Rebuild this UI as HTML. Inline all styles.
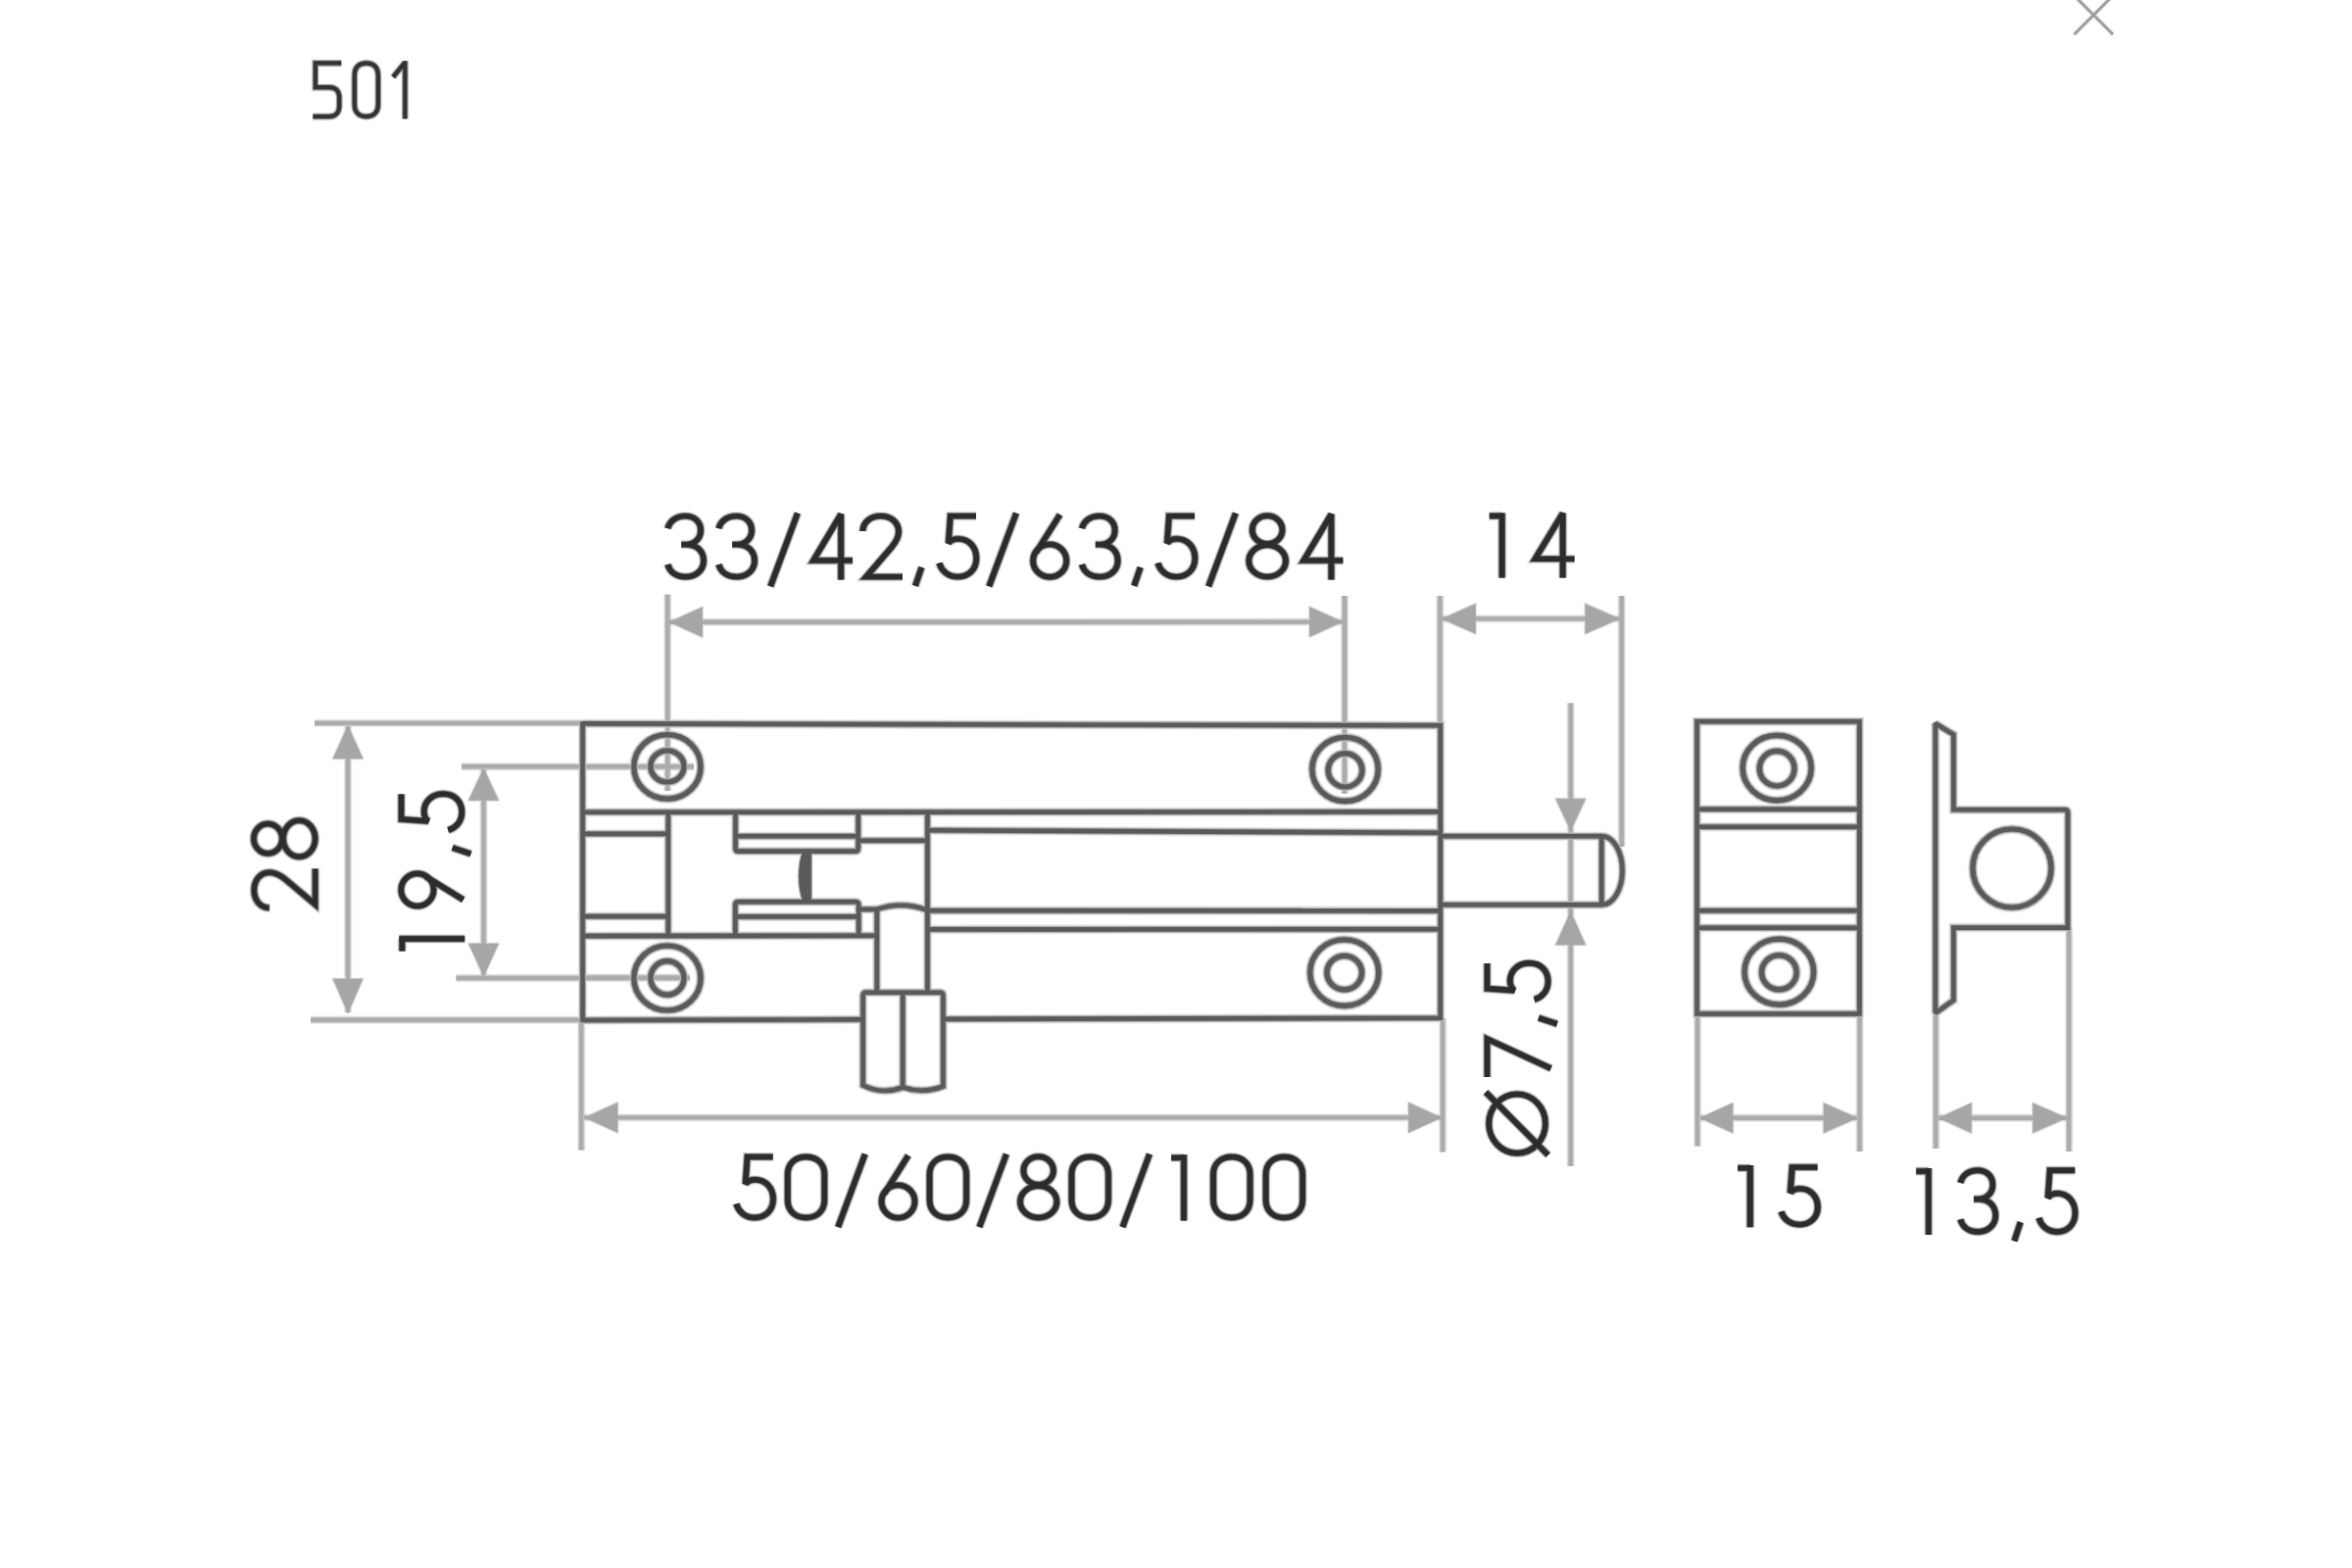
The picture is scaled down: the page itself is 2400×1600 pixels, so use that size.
<!DOCTYPE html>
<html><head><meta charset="utf-8"><title>501</title>
<style>
html,body{margin:0;padding:0;background:#ffffff;}
body{width:2400px;height:1600px;overflow:hidden;font-family:"Liberation Sans",sans-serif;}
svg{display:block;}
</style></head><body>
<svg xmlns="http://www.w3.org/2000/svg" width="2400" height="1600" viewBox="0 0 2400 1600">
<defs><filter id="bl" x="0" y="0" width="2400" height="1600" filterUnits="userSpaceOnUse"><feGaussianBlur stdDeviation="0"/></filter></defs>
<rect width="2400" height="1600" fill="#ffffff"/>
<g filter="url(#bl)">
<g stroke="#dddddd" stroke-width="4.4" stroke-linecap="butt"><line x1="2116.5" y1="35.1" x2="2155.5" y2="-3.9"/><line x1="2117.1" y1="-3.9" x2="2156.1" y2="35.1"/></g>
<g stroke="#9a9a9a" stroke-width="2.4" stroke-linecap="butt"><line x1="2116.5" y1="35.1" x2="2155.5" y2="-3.9"/><line x1="2117.1" y1="-3.9" x2="2156.1" y2="35.1"/></g>
<g fill="none" stroke="#eeeeee" stroke-width="8.4" stroke-linejoin="miter"><g transform="translate(319.3,62.2)"><path d="M29,2.25 H2.5 V27 H17 C23.5,27 26.9,31 26.9,37.5 V46 C26.9,52.5 23,56.75 16.5,56.75 H0"/></g><g transform="translate(359.5,62.2)"><path d="M2.25,14.5 C2.25,6.5 7,2.25 14.3,2.25 C21.6,2.25 26.35,6.5 26.35,14.5 V44.5 C26.35,52.5 21.6,56.75 14.3,56.75 C7,56.75 2.25,52.5 2.25,44.5 Z"/></g><g transform="translate(400.6,62.2)"><path d="M12.75,0 V59 M0.5,16.5 L12.75,1.5"/></g></g>
<g fill="none" stroke="#999999" stroke-width="6.4" stroke-linejoin="miter"><g transform="translate(319.3,62.2)"><path d="M29,2.25 H2.5 V27 H17 C23.5,27 26.9,31 26.9,37.5 V46 C26.9,52.5 23,56.75 16.5,56.75 H0"/></g><g transform="translate(359.5,62.2)"><path d="M2.25,14.5 C2.25,6.5 7,2.25 14.3,2.25 C21.6,2.25 26.35,6.5 26.35,14.5 V44.5 C26.35,52.5 21.6,56.75 14.3,56.75 C7,56.75 2.25,52.5 2.25,44.5 Z"/></g><g transform="translate(400.6,62.2)"><path d="M12.75,0 V59 M0.5,16.5 L12.75,1.5"/></g></g>
<g fill="none" stroke="#333333" stroke-width="4.2" stroke-linejoin="miter"><g transform="translate(319.3,62.2)"><path d="M29,2.25 H2.5 V27 H17 C23.5,27 26.9,31 26.9,37.5 V46 C26.9,52.5 23,56.75 16.5,56.75 H0"/></g><g transform="translate(359.5,62.2)"><path d="M2.25,14.5 C2.25,6.5 7,2.25 14.3,2.25 C21.6,2.25 26.35,6.5 26.35,14.5 V44.5 C26.35,52.5 21.6,56.75 14.3,56.75 C7,56.75 2.25,52.5 2.25,44.5 Z"/></g><g transform="translate(400.6,62.2)"><path d="M12.75,0 V59 M0.5,16.5 L12.75,1.5"/></g></g>
<g fill="none" stroke="#ececec" stroke-linejoin="miter"><line x1="681.2" y1="606.8" x2="681.2" y2="807" stroke-width="8.40"/><line x1="1372" y1="608" x2="1372" y2="810" stroke-width="8.40"/><line x1="683" y1="634.8" x2="1370" y2="634.6" stroke-width="8.40"/><line x1="1469.4" y1="608" x2="1469.4" y2="740" stroke-width="8.40"/><line x1="1654.7" y1="608" x2="1654.7" y2="864" stroke-width="8.40"/><line x1="1471" y1="631.4" x2="1653" y2="631.4" stroke-width="8.40"/><line x1="321" y1="737.9" x2="594" y2="737.9" stroke-width="8.40"/><line x1="317" y1="1040.7" x2="594" y2="1040.7" stroke-width="8.40"/><line x1="355" y1="741" x2="355" y2="1033" stroke-width="8.40"/><line x1="471" y1="782.3" x2="708" y2="782.3" stroke-width="8.40"/><line x1="465.5" y1="998" x2="704" y2="998" stroke-width="8.40"/><line x1="493.5" y1="785" x2="493.5" y2="995.5" stroke-width="8.40"/><line x1="593.2" y1="1041" x2="593.2" y2="1173.5" stroke-width="8.40"/><line x1="1472.2" y1="1039" x2="1472.2" y2="1175.5" stroke-width="8.40"/><line x1="596" y1="1140.4" x2="1470" y2="1140.4" stroke-width="8.40"/><line x1="1602.7" y1="717.5" x2="1602.7" y2="1190" stroke-width="8.40"/><line x1="1732.1" y1="1034" x2="1732.1" y2="1169.5" stroke-width="8.40"/><line x1="1897.6" y1="1034" x2="1897.6" y2="1175" stroke-width="8.40"/><line x1="1735" y1="1140.8" x2="1895" y2="1140.8" stroke-width="8.40"/><line x1="1975.3" y1="1032" x2="1975.3" y2="1172" stroke-width="8.40"/><line x1="2111.2" y1="946" x2="2111.2" y2="1175" stroke-width="8.40"/><line x1="1978" y1="1140.8" x2="2109" y2="1140.8" stroke-width="8.40"/><line x1="594" y1="782.1" x2="708" y2="782.1" stroke-width="8.40"/><line x1="594" y1="997.8" x2="703.5" y2="997.8" stroke-width="8.40"/></g>
<g fill="none" stroke="#d0d0d0" stroke-linejoin="miter"><line x1="681.2" y1="606.8" x2="681.2" y2="807" stroke-width="6.40"/><line x1="1372" y1="608" x2="1372" y2="810" stroke-width="6.40"/><line x1="683" y1="634.8" x2="1370" y2="634.6" stroke-width="6.40"/><line x1="1469.4" y1="608" x2="1469.4" y2="740" stroke-width="6.40"/><line x1="1654.7" y1="608" x2="1654.7" y2="864" stroke-width="6.40"/><line x1="1471" y1="631.4" x2="1653" y2="631.4" stroke-width="6.40"/><line x1="321" y1="737.9" x2="594" y2="737.9" stroke-width="6.40"/><line x1="317" y1="1040.7" x2="594" y2="1040.7" stroke-width="6.40"/><line x1="355" y1="741" x2="355" y2="1033" stroke-width="6.40"/><line x1="471" y1="782.3" x2="708" y2="782.3" stroke-width="6.40"/><line x1="465.5" y1="998" x2="704" y2="998" stroke-width="6.40"/><line x1="493.5" y1="785" x2="493.5" y2="995.5" stroke-width="6.40"/><line x1="593.2" y1="1041" x2="593.2" y2="1173.5" stroke-width="6.40"/><line x1="1472.2" y1="1039" x2="1472.2" y2="1175.5" stroke-width="6.40"/><line x1="596" y1="1140.4" x2="1470" y2="1140.4" stroke-width="6.40"/><line x1="1602.7" y1="717.5" x2="1602.7" y2="1190" stroke-width="6.40"/><line x1="1732.1" y1="1034" x2="1732.1" y2="1169.5" stroke-width="6.40"/><line x1="1897.6" y1="1034" x2="1897.6" y2="1175" stroke-width="6.40"/><line x1="1735" y1="1140.8" x2="1895" y2="1140.8" stroke-width="6.40"/><line x1="1975.3" y1="1032" x2="1975.3" y2="1172" stroke-width="6.40"/><line x1="2111.2" y1="946" x2="2111.2" y2="1175" stroke-width="6.40"/><line x1="1978" y1="1140.8" x2="2109" y2="1140.8" stroke-width="6.40"/><line x1="594" y1="782.1" x2="708" y2="782.1" stroke-width="6.40"/><line x1="594" y1="997.8" x2="703.5" y2="997.8" stroke-width="6.40"/></g>
<g fill="#e2e2e2" stroke="#e2e2e2" stroke-width="3.0" stroke-linejoin="round"><polygon points="683.50,634.80 716.50,619.80 716.50,649.80"/><polygon points="1369.50,634.60 1336.50,619.60 1336.50,649.60"/><polygon points="1471.50,631.40 1505.50,616.40 1505.50,646.40"/><polygon points="1652.30,631.40 1617.80,616.40 1617.80,646.40"/><polygon points="355.00,740.50 340.00,774.00 370.00,774.00"/><polygon points="355.00,1033.50 340.00,999.00 370.00,999.00"/><polygon points="493.50,784.50 478.50,816.50 508.50,816.50"/><polygon points="493.50,996.00 478.50,963.00 508.50,963.00"/><polygon points="597.00,1140.40 630.00,1125.40 630.00,1155.40"/><polygon points="1470.50,1140.40 1437.50,1125.40 1437.50,1155.40"/><polygon points="1602.70,847.50 1587.70,815.20 1617.70,815.20"/><polygon points="1602.70,930.50 1587.70,964.00 1617.70,964.00"/><polygon points="1735.00,1140.80 1768.00,1125.80 1768.00,1155.80"/><polygon points="1895.00,1140.80 1861.00,1125.80 1861.00,1155.80"/><polygon points="1978.50,1140.80 2011.50,1125.80 2011.50,1155.80"/><polygon points="2108.50,1140.80 2074.50,1125.80 2074.50,1155.80"/></g>
<g fill="none" stroke="#ececec" stroke-linejoin="miter"><path d="M594.5,738.4 L1469.8,740.3 L1469.8,1038.8 L962.4,1039.9 M880.6,1040.3 L594.5,1041" stroke-width="9.60"/><line x1="594.5" y1="736.3" x2="594.5" y2="1043" stroke-width="9.60"/><line x1="594.5" y1="828.8" x2="1469.8" y2="828.4" stroke-width="9.60"/><line x1="594.5" y1="850.9" x2="681.8" y2="850.9" stroke-width="9.60"/><line x1="594.5" y1="935.1" x2="681.8" y2="935.1" stroke-width="9.60"/><line x1="681.8" y1="828.8" x2="681.8" y2="955.1" stroke-width="9.60"/><line x1="594.5" y1="955.1" x2="894.8" y2="954.8" stroke-width="9.60"/><path d="M750.5,828.8 V865.4 Q750.5,868.6 753.7,868.6 H872.5 Q875.7,868.6 875.7,865.4 V828.8" stroke-width="9.60"/><line x1="750.5" y1="853.3" x2="875.7" y2="853.3" stroke-width="9.60"/><path d="M750.3,955 V923.4 Q750.3,920.2 753.5,920.2 H872.6 Q876.2,920.2 876.2,923.8 V955" stroke-width="9.60"/><line x1="750.3" y1="935.4" x2="876.2" y2="935.4" stroke-width="9.60"/><line x1="875.7" y1="857.8" x2="946.4" y2="857.8" stroke-width="9.60"/><line x1="876.2" y1="927.9" x2="894.8" y2="927.9" stroke-width="9.60"/><path d="M894.8,927.9 Q920.6,919.2 946.4,928.8" stroke-width="9.60"/><line x1="894.8" y1="927.9" x2="894.8" y2="1012.7" stroke-width="9.60"/><line x1="946.4" y1="828.8" x2="946.4" y2="1012.7" stroke-width="9.60"/><line x1="946.4" y1="847.2" x2="1469.8" y2="849.8" stroke-width="9.60"/><line x1="946.4" y1="929.3" x2="1469.8" y2="929.4" stroke-width="9.60"/><line x1="946.4" y1="948.4" x2="1469.8" y2="948.2" stroke-width="9.60"/><path d="M880.6,1107.5 V1016 Q880.6,1012.7 883.9,1012.7 H959.1 Q962.4,1012.7 962.4,1016 V1108.5 Q942,1116.5 921.2,1109.5 Q901,1117.5 880.6,1107.5 Z" stroke-width="9.60"/><line x1="921.2" y1="1012.7" x2="921.2" y2="1110" stroke-width="9.60"/><path d="M1469.8,853.2 H1634.5 A21,35.05 0 0 1 1634.5,923.3 H1469.8" stroke-width="9.60"/><line x1="1634.3" y1="853.2" x2="1634.3" y2="923.3" stroke-width="9.60"/><ellipse cx="680.9" cy="782.4" rx="34.1" ry="32.7" stroke-width="10.20"/><ellipse cx="680.9" cy="782.0" rx="17.0" ry="16.0" stroke-width="10.20"/><ellipse cx="1372.6" cy="785.0" rx="33.7" ry="32.6" stroke-width="10.20"/><ellipse cx="1372.6" cy="785.9" rx="17.3" ry="17.1" stroke-width="10.20"/><ellipse cx="680.9" cy="998.0" rx="34.1" ry="33.0" stroke-width="10.20"/><ellipse cx="680.9" cy="997.9" rx="17.0" ry="17.2" stroke-width="10.20"/><ellipse cx="1371.8" cy="992.6" rx="35.0" ry="33.8" stroke-width="10.20"/><ellipse cx="1371.8" cy="992.6" rx="17.8" ry="17.2" stroke-width="10.20"/><path d="M1731.6,736.2 H1897.4 V1034.5 H1731.6 Z" stroke-width="9.60"/><line x1="1731.6" y1="825.8" x2="1897.4" y2="825.8" stroke-width="9.60"/><line x1="1731.6" y1="843.7" x2="1897.4" y2="843.7" stroke-width="9.60"/><line x1="1731.6" y1="929.3" x2="1897.4" y2="929.3" stroke-width="9.60"/><line x1="1731.6" y1="946.7" x2="1897.4" y2="946.7" stroke-width="9.60"/><ellipse cx="1813.2" cy="783.6" rx="35.0" ry="33.2" stroke-width="10.20"/><ellipse cx="1813.2" cy="784.2" rx="17.8" ry="17.8" stroke-width="10.20"/><ellipse cx="1815.4" cy="991.7" rx="35.3" ry="33.5" stroke-width="10.20"/><ellipse cx="1815.4" cy="992.3000000000001" rx="17.8" ry="17.5" stroke-width="10.20"/><path d="M1993.4,826.3 V749.5 L1974.9,738.3 V1033.8 L1993.4,1020.6 V946.6 H2110 V829.5 Q2110,826.3 2106.8,826.3 Z" stroke-miterlimit="1.5" stroke-width="9.60"/><ellipse cx="2053" cy="886" rx="40" ry="40" stroke-width="10.20"/></g>
<g fill="none" stroke="#cfcfcf" stroke-linejoin="miter"><path d="M594.5,738.4 L1469.8,740.3 L1469.8,1038.8 L962.4,1039.9 M880.6,1040.3 L594.5,1041" stroke-width="8.00"/><line x1="594.5" y1="736.3" x2="594.5" y2="1043" stroke-width="8.00"/><line x1="594.5" y1="828.8" x2="1469.8" y2="828.4" stroke-width="8.00"/><line x1="594.5" y1="850.9" x2="681.8" y2="850.9" stroke-width="8.00"/><line x1="594.5" y1="935.1" x2="681.8" y2="935.1" stroke-width="8.00"/><line x1="681.8" y1="828.8" x2="681.8" y2="955.1" stroke-width="8.00"/><line x1="594.5" y1="955.1" x2="894.8" y2="954.8" stroke-width="8.00"/><path d="M750.5,828.8 V865.4 Q750.5,868.6 753.7,868.6 H872.5 Q875.7,868.6 875.7,865.4 V828.8" stroke-width="8.00"/><line x1="750.5" y1="853.3" x2="875.7" y2="853.3" stroke-width="8.00"/><path d="M750.3,955 V923.4 Q750.3,920.2 753.5,920.2 H872.6 Q876.2,920.2 876.2,923.8 V955" stroke-width="8.00"/><line x1="750.3" y1="935.4" x2="876.2" y2="935.4" stroke-width="8.00"/><line x1="875.7" y1="857.8" x2="946.4" y2="857.8" stroke-width="8.00"/><line x1="876.2" y1="927.9" x2="894.8" y2="927.9" stroke-width="8.00"/><path d="M894.8,927.9 Q920.6,919.2 946.4,928.8" stroke-width="8.00"/><line x1="894.8" y1="927.9" x2="894.8" y2="1012.7" stroke-width="8.00"/><line x1="946.4" y1="828.8" x2="946.4" y2="1012.7" stroke-width="8.00"/><line x1="946.4" y1="847.2" x2="1469.8" y2="849.8" stroke-width="8.00"/><line x1="946.4" y1="929.3" x2="1469.8" y2="929.4" stroke-width="8.00"/><line x1="946.4" y1="948.4" x2="1469.8" y2="948.2" stroke-width="8.00"/><path d="M880.6,1107.5 V1016 Q880.6,1012.7 883.9,1012.7 H959.1 Q962.4,1012.7 962.4,1016 V1108.5 Q942,1116.5 921.2,1109.5 Q901,1117.5 880.6,1107.5 Z" stroke-width="8.00"/><line x1="921.2" y1="1012.7" x2="921.2" y2="1110" stroke-width="8.00"/><path d="M1469.8,853.2 H1634.5 A21,35.05 0 0 1 1634.5,923.3 H1469.8" stroke-width="8.00"/><line x1="1634.3" y1="853.2" x2="1634.3" y2="923.3" stroke-width="8.00"/><ellipse cx="680.9" cy="782.4" rx="34.1" ry="32.7" stroke-width="8.60"/><ellipse cx="680.9" cy="782.0" rx="17.0" ry="16.0" stroke-width="8.60"/><ellipse cx="1372.6" cy="785.0" rx="33.7" ry="32.6" stroke-width="8.60"/><ellipse cx="1372.6" cy="785.9" rx="17.3" ry="17.1" stroke-width="8.60"/><ellipse cx="680.9" cy="998.0" rx="34.1" ry="33.0" stroke-width="8.60"/><ellipse cx="680.9" cy="997.9" rx="17.0" ry="17.2" stroke-width="8.60"/><ellipse cx="1371.8" cy="992.6" rx="35.0" ry="33.8" stroke-width="8.60"/><ellipse cx="1371.8" cy="992.6" rx="17.8" ry="17.2" stroke-width="8.60"/><path d="M1731.6,736.2 H1897.4 V1034.5 H1731.6 Z" stroke-width="8.00"/><line x1="1731.6" y1="825.8" x2="1897.4" y2="825.8" stroke-width="8.00"/><line x1="1731.6" y1="843.7" x2="1897.4" y2="843.7" stroke-width="8.00"/><line x1="1731.6" y1="929.3" x2="1897.4" y2="929.3" stroke-width="8.00"/><line x1="1731.6" y1="946.7" x2="1897.4" y2="946.7" stroke-width="8.00"/><ellipse cx="1813.2" cy="783.6" rx="35.0" ry="33.2" stroke-width="8.60"/><ellipse cx="1813.2" cy="784.2" rx="17.8" ry="17.8" stroke-width="8.60"/><ellipse cx="1815.4" cy="991.7" rx="35.3" ry="33.5" stroke-width="8.60"/><ellipse cx="1815.4" cy="992.3000000000001" rx="17.8" ry="17.5" stroke-width="8.60"/><path d="M1993.4,826.3 V749.5 L1974.9,738.3 V1033.8 L1993.4,1020.6 V946.6 H2110 V829.5 Q2110,826.3 2106.8,826.3 Z" stroke-miterlimit="1.5" stroke-width="8.00"/><ellipse cx="2053" cy="886" rx="40" ry="40" stroke-width="8.60"/></g>
<g fill="none" stroke="#a2a2a2" stroke-linejoin="miter"><path d="M594.5,738.4 L1469.8,740.3 L1469.8,1038.8 L962.4,1039.9 M880.6,1040.3 L594.5,1041" stroke-width="6.40"/><line x1="594.5" y1="736.3" x2="594.5" y2="1043" stroke-width="6.40"/><line x1="594.5" y1="828.8" x2="1469.8" y2="828.4" stroke-width="6.40"/><line x1="594.5" y1="850.9" x2="681.8" y2="850.9" stroke-width="6.40"/><line x1="594.5" y1="935.1" x2="681.8" y2="935.1" stroke-width="6.40"/><line x1="681.8" y1="828.8" x2="681.8" y2="955.1" stroke-width="6.40"/><line x1="594.5" y1="955.1" x2="894.8" y2="954.8" stroke-width="6.40"/><path d="M750.5,828.8 V865.4 Q750.5,868.6 753.7,868.6 H872.5 Q875.7,868.6 875.7,865.4 V828.8" stroke-width="6.40"/><line x1="750.5" y1="853.3" x2="875.7" y2="853.3" stroke-width="6.40"/><path d="M750.3,955 V923.4 Q750.3,920.2 753.5,920.2 H872.6 Q876.2,920.2 876.2,923.8 V955" stroke-width="6.40"/><line x1="750.3" y1="935.4" x2="876.2" y2="935.4" stroke-width="6.40"/><line x1="875.7" y1="857.8" x2="946.4" y2="857.8" stroke-width="6.40"/><line x1="876.2" y1="927.9" x2="894.8" y2="927.9" stroke-width="6.40"/><path d="M894.8,927.9 Q920.6,919.2 946.4,928.8" stroke-width="6.40"/><line x1="894.8" y1="927.9" x2="894.8" y2="1012.7" stroke-width="6.40"/><line x1="946.4" y1="828.8" x2="946.4" y2="1012.7" stroke-width="6.40"/><line x1="946.4" y1="847.2" x2="1469.8" y2="849.8" stroke-width="6.40"/><line x1="946.4" y1="929.3" x2="1469.8" y2="929.4" stroke-width="6.40"/><line x1="946.4" y1="948.4" x2="1469.8" y2="948.2" stroke-width="6.40"/><path d="M880.6,1107.5 V1016 Q880.6,1012.7 883.9,1012.7 H959.1 Q962.4,1012.7 962.4,1016 V1108.5 Q942,1116.5 921.2,1109.5 Q901,1117.5 880.6,1107.5 Z" stroke-width="6.40"/><line x1="921.2" y1="1012.7" x2="921.2" y2="1110" stroke-width="6.40"/><path d="M1469.8,853.2 H1634.5 A21,35.05 0 0 1 1634.5,923.3 H1469.8" stroke-width="6.40"/><line x1="1634.3" y1="853.2" x2="1634.3" y2="923.3" stroke-width="6.40"/><ellipse cx="680.9" cy="782.4" rx="34.1" ry="32.7" stroke-width="7.00"/><ellipse cx="680.9" cy="782.0" rx="17.0" ry="16.0" stroke-width="7.00"/><ellipse cx="1372.6" cy="785.0" rx="33.7" ry="32.6" stroke-width="7.00"/><ellipse cx="1372.6" cy="785.9" rx="17.3" ry="17.1" stroke-width="7.00"/><ellipse cx="680.9" cy="998.0" rx="34.1" ry="33.0" stroke-width="7.00"/><ellipse cx="680.9" cy="997.9" rx="17.0" ry="17.2" stroke-width="7.00"/><ellipse cx="1371.8" cy="992.6" rx="35.0" ry="33.8" stroke-width="7.00"/><ellipse cx="1371.8" cy="992.6" rx="17.8" ry="17.2" stroke-width="7.00"/><path d="M1731.6,736.2 H1897.4 V1034.5 H1731.6 Z" stroke-width="6.40"/><line x1="1731.6" y1="825.8" x2="1897.4" y2="825.8" stroke-width="6.40"/><line x1="1731.6" y1="843.7" x2="1897.4" y2="843.7" stroke-width="6.40"/><line x1="1731.6" y1="929.3" x2="1897.4" y2="929.3" stroke-width="6.40"/><line x1="1731.6" y1="946.7" x2="1897.4" y2="946.7" stroke-width="6.40"/><ellipse cx="1813.2" cy="783.6" rx="35.0" ry="33.2" stroke-width="7.00"/><ellipse cx="1813.2" cy="784.2" rx="17.8" ry="17.8" stroke-width="7.00"/><ellipse cx="1815.4" cy="991.7" rx="35.3" ry="33.5" stroke-width="7.00"/><ellipse cx="1815.4" cy="992.3000000000001" rx="17.8" ry="17.5" stroke-width="7.00"/><path d="M1993.4,826.3 V749.5 L1974.9,738.3 V1033.8 L1993.4,1020.6 V946.6 H2110 V829.5 Q2110,826.3 2106.8,826.3 Z" stroke-miterlimit="1.5" stroke-width="6.40"/><ellipse cx="2053" cy="886" rx="40" ry="40" stroke-width="7.00"/></g>
<g fill="#cfcfcf" stroke="#cfcfcf" stroke-width="3.4" stroke-linejoin="round"><path d="M819.3,868.6 L827.6,868.6 L827.6,919.8 L819.3,919.8 Q811.5,894.2 819.3,868.6 Z"/></g>
<g fill="#a2a2a2" stroke="#a2a2a2" stroke-width="1.8" stroke-linejoin="round"><path d="M819.3,868.6 L827.6,868.6 L827.6,919.8 L819.3,919.8 Q811.5,894.2 819.3,868.6 Z"/></g>
<g fill="none" stroke="#acacac" stroke-linejoin="miter"><line x1="681.2" y1="606.8" x2="681.2" y2="807" stroke-width="4.40"/><line x1="1372" y1="608" x2="1372" y2="810" stroke-width="4.40"/><line x1="683" y1="634.8" x2="1370" y2="634.6" stroke-width="4.40"/><line x1="1469.4" y1="608" x2="1469.4" y2="740" stroke-width="4.40"/><line x1="1654.7" y1="608" x2="1654.7" y2="864" stroke-width="4.40"/><line x1="1471" y1="631.4" x2="1653" y2="631.4" stroke-width="4.40"/><line x1="321" y1="737.9" x2="594" y2="737.9" stroke-width="4.40"/><line x1="317" y1="1040.7" x2="594" y2="1040.7" stroke-width="4.40"/><line x1="355" y1="741" x2="355" y2="1033" stroke-width="4.40"/><line x1="471" y1="782.3" x2="708" y2="782.3" stroke-width="4.40"/><line x1="465.5" y1="998" x2="704" y2="998" stroke-width="4.40"/><line x1="493.5" y1="785" x2="493.5" y2="995.5" stroke-width="4.40"/><line x1="593.2" y1="1041" x2="593.2" y2="1173.5" stroke-width="4.40"/><line x1="1472.2" y1="1039" x2="1472.2" y2="1175.5" stroke-width="4.40"/><line x1="596" y1="1140.4" x2="1470" y2="1140.4" stroke-width="4.40"/><line x1="1602.7" y1="717.5" x2="1602.7" y2="1190" stroke-width="4.40"/><line x1="1732.1" y1="1034" x2="1732.1" y2="1169.5" stroke-width="4.40"/><line x1="1897.6" y1="1034" x2="1897.6" y2="1175" stroke-width="4.40"/><line x1="1735" y1="1140.8" x2="1895" y2="1140.8" stroke-width="4.40"/><line x1="1975.3" y1="1032" x2="1975.3" y2="1172" stroke-width="4.40"/><line x1="2111.2" y1="946" x2="2111.2" y2="1175" stroke-width="4.40"/><line x1="1978" y1="1140.8" x2="2109" y2="1140.8" stroke-width="4.40"/><line x1="594" y1="782.1" x2="708" y2="782.1" stroke-width="4.40"/><line x1="594" y1="997.8" x2="703.5" y2="997.8" stroke-width="4.40"/></g>
<g fill="#a6a6a6" stroke="#a6a6a6" stroke-width="0.6" stroke-linejoin="round"><polygon points="683.50,634.80 716.50,619.80 716.50,649.80"/><polygon points="1369.50,634.60 1336.50,619.60 1336.50,649.60"/><polygon points="1471.50,631.40 1505.50,616.40 1505.50,646.40"/><polygon points="1652.30,631.40 1617.80,616.40 1617.80,646.40"/><polygon points="355.00,740.50 340.00,774.00 370.00,774.00"/><polygon points="355.00,1033.50 340.00,999.00 370.00,999.00"/><polygon points="493.50,784.50 478.50,816.50 508.50,816.50"/><polygon points="493.50,996.00 478.50,963.00 508.50,963.00"/><polygon points="597.00,1140.40 630.00,1125.40 630.00,1155.40"/><polygon points="1470.50,1140.40 1437.50,1125.40 1437.50,1155.40"/><polygon points="1602.70,847.50 1587.70,815.20 1617.70,815.20"/><polygon points="1602.70,930.50 1587.70,964.00 1617.70,964.00"/><polygon points="1735.00,1140.80 1768.00,1125.80 1768.00,1155.80"/><polygon points="1895.00,1140.80 1861.00,1125.80 1861.00,1155.80"/><polygon points="1978.50,1140.80 2011.50,1125.80 2011.50,1155.80"/><polygon points="2108.50,1140.80 2074.50,1125.80 2074.50,1155.80"/></g>
<g fill="none" stroke="#5a5a5a" stroke-linejoin="miter"><path d="M594.5,738.4 L1469.8,740.3 L1469.8,1038.8 L962.4,1039.9 M880.6,1040.3 L594.5,1041" stroke-width="4.60"/><line x1="594.5" y1="736.3" x2="594.5" y2="1043" stroke-width="4.60"/><line x1="594.5" y1="828.8" x2="1469.8" y2="828.4" stroke-width="4.60"/><line x1="594.5" y1="850.9" x2="681.8" y2="850.9" stroke-width="4.60"/><line x1="594.5" y1="935.1" x2="681.8" y2="935.1" stroke-width="4.60"/><line x1="681.8" y1="828.8" x2="681.8" y2="955.1" stroke-width="4.60"/><line x1="594.5" y1="955.1" x2="894.8" y2="954.8" stroke-width="4.60"/><path d="M750.5,828.8 V865.4 Q750.5,868.6 753.7,868.6 H872.5 Q875.7,868.6 875.7,865.4 V828.8" stroke-width="4.60"/><line x1="750.5" y1="853.3" x2="875.7" y2="853.3" stroke-width="4.60"/><path d="M750.3,955 V923.4 Q750.3,920.2 753.5,920.2 H872.6 Q876.2,920.2 876.2,923.8 V955" stroke-width="4.60"/><line x1="750.3" y1="935.4" x2="876.2" y2="935.4" stroke-width="4.60"/><line x1="875.7" y1="857.8" x2="946.4" y2="857.8" stroke-width="4.60"/><line x1="876.2" y1="927.9" x2="894.8" y2="927.9" stroke-width="4.60"/><path d="M894.8,927.9 Q920.6,919.2 946.4,928.8" stroke-width="4.60"/><line x1="894.8" y1="927.9" x2="894.8" y2="1012.7" stroke-width="4.60"/><line x1="946.4" y1="828.8" x2="946.4" y2="1012.7" stroke-width="4.60"/><line x1="946.4" y1="847.2" x2="1469.8" y2="849.8" stroke-width="4.60"/><line x1="946.4" y1="929.3" x2="1469.8" y2="929.4" stroke-width="4.60"/><line x1="946.4" y1="948.4" x2="1469.8" y2="948.2" stroke-width="4.60"/><path d="M880.6,1107.5 V1016 Q880.6,1012.7 883.9,1012.7 H959.1 Q962.4,1012.7 962.4,1016 V1108.5 Q942,1116.5 921.2,1109.5 Q901,1117.5 880.6,1107.5 Z" stroke-width="4.60"/><line x1="921.2" y1="1012.7" x2="921.2" y2="1110" stroke-width="4.60"/><path d="M1469.8,853.2 H1634.5 A21,35.05 0 0 1 1634.5,923.3 H1469.8" stroke-width="4.60"/><line x1="1634.3" y1="853.2" x2="1634.3" y2="923.3" stroke-width="4.60"/><ellipse cx="680.9" cy="782.4" rx="34.1" ry="32.7" stroke-width="5.20"/><ellipse cx="680.9" cy="782.0" rx="17.0" ry="16.0" stroke-width="5.20"/><ellipse cx="1372.6" cy="785.0" rx="33.7" ry="32.6" stroke-width="5.20"/><ellipse cx="1372.6" cy="785.9" rx="17.3" ry="17.1" stroke-width="5.20"/><ellipse cx="680.9" cy="998.0" rx="34.1" ry="33.0" stroke-width="5.20"/><ellipse cx="680.9" cy="997.9" rx="17.0" ry="17.2" stroke-width="5.20"/><ellipse cx="1371.8" cy="992.6" rx="35.0" ry="33.8" stroke-width="5.20"/><ellipse cx="1371.8" cy="992.6" rx="17.8" ry="17.2" stroke-width="5.20"/><path d="M1731.6,736.2 H1897.4 V1034.5 H1731.6 Z" stroke-width="4.60"/><line x1="1731.6" y1="825.8" x2="1897.4" y2="825.8" stroke-width="4.60"/><line x1="1731.6" y1="843.7" x2="1897.4" y2="843.7" stroke-width="4.60"/><line x1="1731.6" y1="929.3" x2="1897.4" y2="929.3" stroke-width="4.60"/><line x1="1731.6" y1="946.7" x2="1897.4" y2="946.7" stroke-width="4.60"/><ellipse cx="1813.2" cy="783.6" rx="35.0" ry="33.2" stroke-width="5.20"/><ellipse cx="1813.2" cy="784.2" rx="17.8" ry="17.8" stroke-width="5.20"/><ellipse cx="1815.4" cy="991.7" rx="35.3" ry="33.5" stroke-width="5.20"/><ellipse cx="1815.4" cy="992.3000000000001" rx="17.8" ry="17.5" stroke-width="5.20"/><path d="M1993.4,826.3 V749.5 L1974.9,738.3 V1033.8 L1993.4,1020.6 V946.6 H2110 V829.5 Q2110,826.3 2106.8,826.3 Z" stroke-miterlimit="1.5" stroke-width="4.60"/><ellipse cx="2053" cy="886" rx="40" ry="40" stroke-width="5.20"/></g>
<g fill="#5a5a5a" stroke="#5a5a5a" stroke-width="0.6" stroke-linejoin="round"><path d="M819.3,868.6 L827.6,868.6 L827.6,919.8 L819.3,919.8 Q811.5,894.2 819.3,868.6 Z"/></g>
<g fill="none" stroke="#ececec" stroke-width="10.007" stroke-linejoin="miter" stroke-miterlimit="2.5"><g transform="translate(678.40,523.70) scale(0.9900,0.9686)"><path d="M3,16 C5,8 12,3 21,3 C30.5,3 37,9 37,18 C37,26.5 30.5,33 22,33 H17 M22,33 C33,33 40,40 40,50 C40,60 32,67 21.5,67 C12,67 5,62 3,54"/></g><g transform="translate(730.40,523.70) scale(0.9900,0.9686)"><path d="M3,16 C5,8 12,3 21,3 C30.5,3 37,9 37,18 C37,26.5 30.5,33 22,33 H17 M22,33 C33,33 40,40 40,50 C40,60 32,67 21.5,67 C12,67 5,62 3,54"/></g><g transform="translate(783.20,523.70) scale(0.9900,0.9686)"><path d="M31,0 L3,77"/></g><g transform="translate(824.50,523.70) scale(0.9900,0.9686)"><path d="M34,70 V1 L5.5,49.8 H46"/></g><g transform="translate(877.40,523.70) scale(0.9900,0.9686)"><path d="M3,19 C3,9.5 11,3 21.5,3 C32,3 40,9.5 40,19.5 C40,26 37,30.5 33,35.5 L6.5,67 H44"/></g><g transform="translate(931.00,523.70) scale(0.9900,0.9686)"><path d="M9.5,57 L3,76.5"/></g><g transform="translate(955.40,523.70) scale(0.9900,0.9686)"><path d="M41,3 H14.5 L12.5,31.5 C15,28.5 18.5,27 22.5,27 C33.5,27 41.3,35.5 41.3,47.5 C41.3,59.5 33,67 22,67 C12.5,67 5.5,61 3,52.5"/></g><g transform="translate(1006.30,523.70) scale(0.9900,0.9686)"><path d="M31,0 L3,77"/></g><g transform="translate(1050.90,523.70) scale(0.9900,0.9686)"><ellipse cx="20.5" cy="50" rx="17.2" ry="17.2"/><path d="M31,1.5 L6.3,41.5"/></g><g transform="translate(1101.00,523.70) scale(0.9900,0.9686)"><path d="M3,16 C5,8 12,3 21,3 C30.5,3 37,9 37,18 C37,26.5 30.5,33 22,33 H17 M22,33 C33,33 40,40 40,50 C40,60 32,67 21.5,67 C12,67 5,62 3,54"/></g><g transform="translate(1154.30,523.70) scale(0.9900,0.9686)"><path d="M9.5,57 L3,76.5"/></g><g transform="translate(1178.50,523.70) scale(0.9900,0.9686)"><path d="M41,3 H14.5 L12.5,31.5 C15,28.5 18.5,27 22.5,27 C33.5,27 41.3,35.5 41.3,47.5 C41.3,59.5 33,67 22,67 C12.5,67 5.5,61 3,52.5"/></g><g transform="translate(1230.20,523.70) scale(0.9900,0.9686)"><path d="M31,0 L3,77"/></g><g transform="translate(1271.40,523.70) scale(0.9900,0.9686)"><ellipse cx="22" cy="17.5" rx="15.5" ry="14.8"/><ellipse cx="22" cy="50.3" rx="19" ry="16.7"/></g><g transform="translate(1324.80,523.70) scale(0.9900,0.9686)"><path d="M34,70 V1 L5.5,49.8 H46"/></g></g><g fill="none" stroke="#b4b4b4" stroke-width="8.169" stroke-linejoin="miter" stroke-miterlimit="2.5"><g transform="translate(678.40,523.70) scale(0.9900,0.9686)"><path d="M3,16 C5,8 12,3 21,3 C30.5,3 37,9 37,18 C37,26.5 30.5,33 22,33 H17 M22,33 C33,33 40,40 40,50 C40,60 32,67 21.5,67 C12,67 5,62 3,54"/></g><g transform="translate(730.40,523.70) scale(0.9900,0.9686)"><path d="M3,16 C5,8 12,3 21,3 C30.5,3 37,9 37,18 C37,26.5 30.5,33 22,33 H17 M22,33 C33,33 40,40 40,50 C40,60 32,67 21.5,67 C12,67 5,62 3,54"/></g><g transform="translate(783.20,523.70) scale(0.9900,0.9686)"><path d="M31,0 L3,77"/></g><g transform="translate(824.50,523.70) scale(0.9900,0.9686)"><path d="M34,70 V1 L5.5,49.8 H46"/></g><g transform="translate(877.40,523.70) scale(0.9900,0.9686)"><path d="M3,19 C3,9.5 11,3 21.5,3 C32,3 40,9.5 40,19.5 C40,26 37,30.5 33,35.5 L6.5,67 H44"/></g><g transform="translate(931.00,523.70) scale(0.9900,0.9686)"><path d="M9.5,57 L3,76.5"/></g><g transform="translate(955.40,523.70) scale(0.9900,0.9686)"><path d="M41,3 H14.5 L12.5,31.5 C15,28.5 18.5,27 22.5,27 C33.5,27 41.3,35.5 41.3,47.5 C41.3,59.5 33,67 22,67 C12.5,67 5.5,61 3,52.5"/></g><g transform="translate(1006.30,523.70) scale(0.9900,0.9686)"><path d="M31,0 L3,77"/></g><g transform="translate(1050.90,523.70) scale(0.9900,0.9686)"><ellipse cx="20.5" cy="50" rx="17.2" ry="17.2"/><path d="M31,1.5 L6.3,41.5"/></g><g transform="translate(1101.00,523.70) scale(0.9900,0.9686)"><path d="M3,16 C5,8 12,3 21,3 C30.5,3 37,9 37,18 C37,26.5 30.5,33 22,33 H17 M22,33 C33,33 40,40 40,50 C40,60 32,67 21.5,67 C12,67 5,62 3,54"/></g><g transform="translate(1154.30,523.70) scale(0.9900,0.9686)"><path d="M9.5,57 L3,76.5"/></g><g transform="translate(1178.50,523.70) scale(0.9900,0.9686)"><path d="M41,3 H14.5 L12.5,31.5 C15,28.5 18.5,27 22.5,27 C33.5,27 41.3,35.5 41.3,47.5 C41.3,59.5 33,67 22,67 C12.5,67 5.5,61 3,52.5"/></g><g transform="translate(1230.20,523.70) scale(0.9900,0.9686)"><path d="M31,0 L3,77"/></g><g transform="translate(1271.40,523.70) scale(0.9900,0.9686)"><ellipse cx="22" cy="17.5" rx="15.5" ry="14.8"/><ellipse cx="22" cy="50.3" rx="19" ry="16.7"/></g><g transform="translate(1324.80,523.70) scale(0.9900,0.9686)"><path d="M34,70 V1 L5.5,49.8 H46"/></g></g><g fill="none" stroke="#6e6e6e" stroke-width="6.740" stroke-linejoin="miter" stroke-miterlimit="2.5"><g transform="translate(678.40,523.70) scale(0.9900,0.9686)"><path d="M3,16 C5,8 12,3 21,3 C30.5,3 37,9 37,18 C37,26.5 30.5,33 22,33 H17 M22,33 C33,33 40,40 40,50 C40,60 32,67 21.5,67 C12,67 5,62 3,54"/></g><g transform="translate(730.40,523.70) scale(0.9900,0.9686)"><path d="M3,16 C5,8 12,3 21,3 C30.5,3 37,9 37,18 C37,26.5 30.5,33 22,33 H17 M22,33 C33,33 40,40 40,50 C40,60 32,67 21.5,67 C12,67 5,62 3,54"/></g><g transform="translate(783.20,523.70) scale(0.9900,0.9686)"><path d="M31,0 L3,77"/></g><g transform="translate(824.50,523.70) scale(0.9900,0.9686)"><path d="M34,70 V1 L5.5,49.8 H46"/></g><g transform="translate(877.40,523.70) scale(0.9900,0.9686)"><path d="M3,19 C3,9.5 11,3 21.5,3 C32,3 40,9.5 40,19.5 C40,26 37,30.5 33,35.5 L6.5,67 H44"/></g><g transform="translate(931.00,523.70) scale(0.9900,0.9686)"><path d="M9.5,57 L3,76.5"/></g><g transform="translate(955.40,523.70) scale(0.9900,0.9686)"><path d="M41,3 H14.5 L12.5,31.5 C15,28.5 18.5,27 22.5,27 C33.5,27 41.3,35.5 41.3,47.5 C41.3,59.5 33,67 22,67 C12.5,67 5.5,61 3,52.5"/></g><g transform="translate(1006.30,523.70) scale(0.9900,0.9686)"><path d="M31,0 L3,77"/></g><g transform="translate(1050.90,523.70) scale(0.9900,0.9686)"><ellipse cx="20.5" cy="50" rx="17.2" ry="17.2"/><path d="M31,1.5 L6.3,41.5"/></g><g transform="translate(1101.00,523.70) scale(0.9900,0.9686)"><path d="M3,16 C5,8 12,3 21,3 C30.5,3 37,9 37,18 C37,26.5 30.5,33 22,33 H17 M22,33 C33,33 40,40 40,50 C40,60 32,67 21.5,67 C12,67 5,62 3,54"/></g><g transform="translate(1154.30,523.70) scale(0.9900,0.9686)"><path d="M9.5,57 L3,76.5"/></g><g transform="translate(1178.50,523.70) scale(0.9900,0.9686)"><path d="M41,3 H14.5 L12.5,31.5 C15,28.5 18.5,27 22.5,27 C33.5,27 41.3,35.5 41.3,47.5 C41.3,59.5 33,67 22,67 C12.5,67 5.5,61 3,52.5"/></g><g transform="translate(1230.20,523.70) scale(0.9900,0.9686)"><path d="M31,0 L3,77"/></g><g transform="translate(1271.40,523.70) scale(0.9900,0.9686)"><ellipse cx="22" cy="17.5" rx="15.5" ry="14.8"/><ellipse cx="22" cy="50.3" rx="19" ry="16.7"/></g><g transform="translate(1324.80,523.70) scale(0.9900,0.9686)"><path d="M34,70 V1 L5.5,49.8 H46"/></g></g><g fill="none" stroke="#2c2c2c" stroke-width="5.514" stroke-linejoin="miter" stroke-miterlimit="2.5"><g transform="translate(678.40,523.70) scale(0.9900,0.9686)"><path d="M3,16 C5,8 12,3 21,3 C30.5,3 37,9 37,18 C37,26.5 30.5,33 22,33 H17 M22,33 C33,33 40,40 40,50 C40,60 32,67 21.5,67 C12,67 5,62 3,54"/></g><g transform="translate(730.40,523.70) scale(0.9900,0.9686)"><path d="M3,16 C5,8 12,3 21,3 C30.5,3 37,9 37,18 C37,26.5 30.5,33 22,33 H17 M22,33 C33,33 40,40 40,50 C40,60 32,67 21.5,67 C12,67 5,62 3,54"/></g><g transform="translate(783.20,523.70) scale(0.9900,0.9686)"><path d="M31,0 L3,77"/></g><g transform="translate(824.50,523.70) scale(0.9900,0.9686)"><path d="M34,70 V1 L5.5,49.8 H46"/></g><g transform="translate(877.40,523.70) scale(0.9900,0.9686)"><path d="M3,19 C3,9.5 11,3 21.5,3 C32,3 40,9.5 40,19.5 C40,26 37,30.5 33,35.5 L6.5,67 H44"/></g><g transform="translate(931.00,523.70) scale(0.9900,0.9686)"><path d="M9.5,57 L3,76.5"/></g><g transform="translate(955.40,523.70) scale(0.9900,0.9686)"><path d="M41,3 H14.5 L12.5,31.5 C15,28.5 18.5,27 22.5,27 C33.5,27 41.3,35.5 41.3,47.5 C41.3,59.5 33,67 22,67 C12.5,67 5.5,61 3,52.5"/></g><g transform="translate(1006.30,523.70) scale(0.9900,0.9686)"><path d="M31,0 L3,77"/></g><g transform="translate(1050.90,523.70) scale(0.9900,0.9686)"><ellipse cx="20.5" cy="50" rx="17.2" ry="17.2"/><path d="M31,1.5 L6.3,41.5"/></g><g transform="translate(1101.00,523.70) scale(0.9900,0.9686)"><path d="M3,16 C5,8 12,3 21,3 C30.5,3 37,9 37,18 C37,26.5 30.5,33 22,33 H17 M22,33 C33,33 40,40 40,50 C40,60 32,67 21.5,67 C12,67 5,62 3,54"/></g><g transform="translate(1154.30,523.70) scale(0.9900,0.9686)"><path d="M9.5,57 L3,76.5"/></g><g transform="translate(1178.50,523.70) scale(0.9900,0.9686)"><path d="M41,3 H14.5 L12.5,31.5 C15,28.5 18.5,27 22.5,27 C33.5,27 41.3,35.5 41.3,47.5 C41.3,59.5 33,67 22,67 C12.5,67 5.5,61 3,52.5"/></g><g transform="translate(1230.20,523.70) scale(0.9900,0.9686)"><path d="M31,0 L3,77"/></g><g transform="translate(1271.40,523.70) scale(0.9900,0.9686)"><ellipse cx="22" cy="17.5" rx="15.5" ry="14.8"/><ellipse cx="22" cy="50.3" rx="19" ry="16.7"/></g><g transform="translate(1324.80,523.70) scale(0.9900,0.9686)"><path d="M34,70 V1 L5.5,49.8 H46"/></g></g>
<g fill="none" stroke="#ececec" stroke-width="10.081" stroke-linejoin="miter" stroke-miterlimit="2.5"><g transform="translate(1519.30,522.80) scale(0.9900,0.9543)"><path d="M13.5,0.8 V70 M0.5,3.9 H13.5"/></g><g transform="translate(1561.00,522.80) scale(0.9900,0.9543)"><path d="M34,70 V1 L5.5,49.8 H46"/></g></g><g fill="none" stroke="#b4b4b4" stroke-width="8.229" stroke-linejoin="miter" stroke-miterlimit="2.5"><g transform="translate(1519.30,522.80) scale(0.9900,0.9543)"><path d="M13.5,0.8 V70 M0.5,3.9 H13.5"/></g><g transform="translate(1561.00,522.80) scale(0.9900,0.9543)"><path d="M34,70 V1 L5.5,49.8 H46"/></g></g><g fill="none" stroke="#6e6e6e" stroke-width="6.789" stroke-linejoin="miter" stroke-miterlimit="2.5"><g transform="translate(1519.30,522.80) scale(0.9900,0.9543)"><path d="M13.5,0.8 V70 M0.5,3.9 H13.5"/></g><g transform="translate(1561.00,522.80) scale(0.9900,0.9543)"><path d="M34,70 V1 L5.5,49.8 H46"/></g></g><g fill="none" stroke="#2c2c2c" stroke-width="5.555" stroke-linejoin="miter" stroke-miterlimit="2.5"><g transform="translate(1519.30,522.80) scale(0.9900,0.9543)"><path d="M13.5,0.8 V70 M0.5,3.9 H13.5"/></g><g transform="translate(1561.00,522.80) scale(0.9900,0.9543)"><path d="M34,70 V1 L5.5,49.8 H46"/></g></g>
<g fill="none" stroke="#ececec" stroke-width="10.033" stroke-linejoin="miter" stroke-miterlimit="2.5"><g transform="translate(748.30,1177.60) scale(0.9850,0.9686)"><path d="M41,3 H14.5 L12.5,31.5 C15,28.5 18.5,27 22.5,27 C33.5,27 41.3,35.5 41.3,47.5 C41.3,59.5 33,67 22,67 C12.5,67 5.5,61 3,52.5"/></g><g transform="translate(800.60,1177.60) scale(0.9850,0.9686)"><path d="M3.2,21.5 C3.2,9.5 11.5,3 22.25,3 C33,3 41.3,9.5 41.3,21.5 V48.5 C41.3,60.5 33,67 22.25,67 C11.5,67 3.2,60.5 3.2,48.5 Z"/></g><g transform="translate(852.20,1177.60) scale(0.9850,0.9686)"><path d="M31,0 L3,77"/></g><g transform="translate(896.30,1177.60) scale(0.9850,0.9686)"><ellipse cx="20.5" cy="50" rx="17.2" ry="17.2"/><path d="M31,1.5 L6.3,41.5"/></g><g transform="translate(945.40,1177.60) scale(0.9850,0.9686)"><path d="M3.2,21.5 C3.2,9.5 11.5,3 22.25,3 C33,3 41.3,9.5 41.3,21.5 V48.5 C41.3,60.5 33,67 22.25,67 C11.5,67 3.2,60.5 3.2,48.5 Z"/></g><g transform="translate(996.40,1177.60) scale(0.9850,0.9686)"><path d="M31,0 L3,77"/></g><g transform="translate(1038.00,1177.60) scale(0.9850,0.9686)"><ellipse cx="22" cy="17.5" rx="15.5" ry="14.8"/><ellipse cx="22" cy="50.3" rx="19" ry="16.7"/></g><g transform="translate(1090.30,1177.60) scale(0.9850,0.9686)"><path d="M3.2,21.5 C3.2,9.5 11.5,3 22.25,3 C33,3 41.3,9.5 41.3,21.5 V48.5 C41.3,60.5 33,67 22.25,67 C11.5,67 3.2,60.5 3.2,48.5 Z"/></g><g transform="translate(1142.50,1177.60) scale(0.9850,0.9686)"><path d="M31,0 L3,77"/></g><g transform="translate(1194.70,1177.60) scale(0.9850,0.9686)"><path d="M13.5,0.8 V70 M0.5,3.9 H13.5"/></g><g transform="translate(1234.90,1177.60) scale(0.9850,0.9686)"><path d="M3.2,21.5 C3.2,9.5 11.5,3 22.25,3 C33,3 41.3,9.5 41.3,21.5 V48.5 C41.3,60.5 33,67 22.25,67 C11.5,67 3.2,60.5 3.2,48.5 Z"/></g><g transform="translate(1288.50,1177.60) scale(0.9850,0.9686)"><path d="M3.2,21.5 C3.2,9.5 11.5,3 22.25,3 C33,3 41.3,9.5 41.3,21.5 V48.5 C41.3,60.5 33,67 22.25,67 C11.5,67 3.2,60.5 3.2,48.5 Z"/></g></g><g fill="none" stroke="#b4b4b4" stroke-width="8.190" stroke-linejoin="miter" stroke-miterlimit="2.5"><g transform="translate(748.30,1177.60) scale(0.9850,0.9686)"><path d="M41,3 H14.5 L12.5,31.5 C15,28.5 18.5,27 22.5,27 C33.5,27 41.3,35.5 41.3,47.5 C41.3,59.5 33,67 22,67 C12.5,67 5.5,61 3,52.5"/></g><g transform="translate(800.60,1177.60) scale(0.9850,0.9686)"><path d="M3.2,21.5 C3.2,9.5 11.5,3 22.25,3 C33,3 41.3,9.5 41.3,21.5 V48.5 C41.3,60.5 33,67 22.25,67 C11.5,67 3.2,60.5 3.2,48.5 Z"/></g><g transform="translate(852.20,1177.60) scale(0.9850,0.9686)"><path d="M31,0 L3,77"/></g><g transform="translate(896.30,1177.60) scale(0.9850,0.9686)"><ellipse cx="20.5" cy="50" rx="17.2" ry="17.2"/><path d="M31,1.5 L6.3,41.5"/></g><g transform="translate(945.40,1177.60) scale(0.9850,0.9686)"><path d="M3.2,21.5 C3.2,9.5 11.5,3 22.25,3 C33,3 41.3,9.5 41.3,21.5 V48.5 C41.3,60.5 33,67 22.25,67 C11.5,67 3.2,60.5 3.2,48.5 Z"/></g><g transform="translate(996.40,1177.60) scale(0.9850,0.9686)"><path d="M31,0 L3,77"/></g><g transform="translate(1038.00,1177.60) scale(0.9850,0.9686)"><ellipse cx="22" cy="17.5" rx="15.5" ry="14.8"/><ellipse cx="22" cy="50.3" rx="19" ry="16.7"/></g><g transform="translate(1090.30,1177.60) scale(0.9850,0.9686)"><path d="M3.2,21.5 C3.2,9.5 11.5,3 22.25,3 C33,3 41.3,9.5 41.3,21.5 V48.5 C41.3,60.5 33,67 22.25,67 C11.5,67 3.2,60.5 3.2,48.5 Z"/></g><g transform="translate(1142.50,1177.60) scale(0.9850,0.9686)"><path d="M31,0 L3,77"/></g><g transform="translate(1194.70,1177.60) scale(0.9850,0.9686)"><path d="M13.5,0.8 V70 M0.5,3.9 H13.5"/></g><g transform="translate(1234.90,1177.60) scale(0.9850,0.9686)"><path d="M3.2,21.5 C3.2,9.5 11.5,3 22.25,3 C33,3 41.3,9.5 41.3,21.5 V48.5 C41.3,60.5 33,67 22.25,67 C11.5,67 3.2,60.5 3.2,48.5 Z"/></g><g transform="translate(1288.50,1177.60) scale(0.9850,0.9686)"><path d="M3.2,21.5 C3.2,9.5 11.5,3 22.25,3 C33,3 41.3,9.5 41.3,21.5 V48.5 C41.3,60.5 33,67 22.25,67 C11.5,67 3.2,60.5 3.2,48.5 Z"/></g></g><g fill="none" stroke="#6e6e6e" stroke-width="6.757" stroke-linejoin="miter" stroke-miterlimit="2.5"><g transform="translate(748.30,1177.60) scale(0.9850,0.9686)"><path d="M41,3 H14.5 L12.5,31.5 C15,28.5 18.5,27 22.5,27 C33.5,27 41.3,35.5 41.3,47.5 C41.3,59.5 33,67 22,67 C12.5,67 5.5,61 3,52.5"/></g><g transform="translate(800.60,1177.60) scale(0.9850,0.9686)"><path d="M3.2,21.5 C3.2,9.5 11.5,3 22.25,3 C33,3 41.3,9.5 41.3,21.5 V48.5 C41.3,60.5 33,67 22.25,67 C11.5,67 3.2,60.5 3.2,48.5 Z"/></g><g transform="translate(852.20,1177.60) scale(0.9850,0.9686)"><path d="M31,0 L3,77"/></g><g transform="translate(896.30,1177.60) scale(0.9850,0.9686)"><ellipse cx="20.5" cy="50" rx="17.2" ry="17.2"/><path d="M31,1.5 L6.3,41.5"/></g><g transform="translate(945.40,1177.60) scale(0.9850,0.9686)"><path d="M3.2,21.5 C3.2,9.5 11.5,3 22.25,3 C33,3 41.3,9.5 41.3,21.5 V48.5 C41.3,60.5 33,67 22.25,67 C11.5,67 3.2,60.5 3.2,48.5 Z"/></g><g transform="translate(996.40,1177.60) scale(0.9850,0.9686)"><path d="M31,0 L3,77"/></g><g transform="translate(1038.00,1177.60) scale(0.9850,0.9686)"><ellipse cx="22" cy="17.5" rx="15.5" ry="14.8"/><ellipse cx="22" cy="50.3" rx="19" ry="16.7"/></g><g transform="translate(1090.30,1177.60) scale(0.9850,0.9686)"><path d="M3.2,21.5 C3.2,9.5 11.5,3 22.25,3 C33,3 41.3,9.5 41.3,21.5 V48.5 C41.3,60.5 33,67 22.25,67 C11.5,67 3.2,60.5 3.2,48.5 Z"/></g><g transform="translate(1142.50,1177.60) scale(0.9850,0.9686)"><path d="M31,0 L3,77"/></g><g transform="translate(1194.70,1177.60) scale(0.9850,0.9686)"><path d="M13.5,0.8 V70 M0.5,3.9 H13.5"/></g><g transform="translate(1234.90,1177.60) scale(0.9850,0.9686)"><path d="M3.2,21.5 C3.2,9.5 11.5,3 22.25,3 C33,3 41.3,9.5 41.3,21.5 V48.5 C41.3,60.5 33,67 22.25,67 C11.5,67 3.2,60.5 3.2,48.5 Z"/></g><g transform="translate(1288.50,1177.60) scale(0.9850,0.9686)"><path d="M3.2,21.5 C3.2,9.5 11.5,3 22.25,3 C33,3 41.3,9.5 41.3,21.5 V48.5 C41.3,60.5 33,67 22.25,67 C11.5,67 3.2,60.5 3.2,48.5 Z"/></g></g><g fill="none" stroke="#2c2c2c" stroke-width="5.528" stroke-linejoin="miter" stroke-miterlimit="2.5"><g transform="translate(748.30,1177.60) scale(0.9850,0.9686)"><path d="M41,3 H14.5 L12.5,31.5 C15,28.5 18.5,27 22.5,27 C33.5,27 41.3,35.5 41.3,47.5 C41.3,59.5 33,67 22,67 C12.5,67 5.5,61 3,52.5"/></g><g transform="translate(800.60,1177.60) scale(0.9850,0.9686)"><path d="M3.2,21.5 C3.2,9.5 11.5,3 22.25,3 C33,3 41.3,9.5 41.3,21.5 V48.5 C41.3,60.5 33,67 22.25,67 C11.5,67 3.2,60.5 3.2,48.5 Z"/></g><g transform="translate(852.20,1177.60) scale(0.9850,0.9686)"><path d="M31,0 L3,77"/></g><g transform="translate(896.30,1177.60) scale(0.9850,0.9686)"><ellipse cx="20.5" cy="50" rx="17.2" ry="17.2"/><path d="M31,1.5 L6.3,41.5"/></g><g transform="translate(945.40,1177.60) scale(0.9850,0.9686)"><path d="M3.2,21.5 C3.2,9.5 11.5,3 22.25,3 C33,3 41.3,9.5 41.3,21.5 V48.5 C41.3,60.5 33,67 22.25,67 C11.5,67 3.2,60.5 3.2,48.5 Z"/></g><g transform="translate(996.40,1177.60) scale(0.9850,0.9686)"><path d="M31,0 L3,77"/></g><g transform="translate(1038.00,1177.60) scale(0.9850,0.9686)"><ellipse cx="22" cy="17.5" rx="15.5" ry="14.8"/><ellipse cx="22" cy="50.3" rx="19" ry="16.7"/></g><g transform="translate(1090.30,1177.60) scale(0.9850,0.9686)"><path d="M3.2,21.5 C3.2,9.5 11.5,3 22.25,3 C33,3 41.3,9.5 41.3,21.5 V48.5 C41.3,60.5 33,67 22.25,67 C11.5,67 3.2,60.5 3.2,48.5 Z"/></g><g transform="translate(1142.50,1177.60) scale(0.9850,0.9686)"><path d="M31,0 L3,77"/></g><g transform="translate(1194.70,1177.60) scale(0.9850,0.9686)"><path d="M13.5,0.8 V70 M0.5,3.9 H13.5"/></g><g transform="translate(1234.90,1177.60) scale(0.9850,0.9686)"><path d="M3.2,21.5 C3.2,9.5 11.5,3 22.25,3 C33,3 41.3,9.5 41.3,21.5 V48.5 C41.3,60.5 33,67 22.25,67 C11.5,67 3.2,60.5 3.2,48.5 Z"/></g><g transform="translate(1288.50,1177.60) scale(0.9850,0.9686)"><path d="M3.2,21.5 C3.2,9.5 11.5,3 22.25,3 C33,3 41.3,9.5 41.3,21.5 V48.5 C41.3,60.5 33,67 22.25,67 C11.5,67 3.2,60.5 3.2,48.5 Z"/></g></g>
<g fill="none" stroke="#ececec" stroke-width="10.374" stroke-linejoin="miter" stroke-miterlimit="2.5"><g transform="translate(1772.70,1188.30) scale(0.9750,0.9143)"><path d="M13.5,0.8 V70 M0.5,3.9 H13.5"/></g><g transform="translate(1814.60,1188.30) scale(0.9750,0.9143)"><path d="M41,3 H14.5 L12.5,31.5 C15,28.5 18.5,27 22.5,27 C33.5,27 41.3,35.5 41.3,47.5 C41.3,59.5 33,67 22,67 C12.5,67 5.5,61 3,52.5"/></g></g><g fill="none" stroke="#b4b4b4" stroke-width="8.469" stroke-linejoin="miter" stroke-miterlimit="2.5"><g transform="translate(1772.70,1188.30) scale(0.9750,0.9143)"><path d="M13.5,0.8 V70 M0.5,3.9 H13.5"/></g><g transform="translate(1814.60,1188.30) scale(0.9750,0.9143)"><path d="M41,3 H14.5 L12.5,31.5 C15,28.5 18.5,27 22.5,27 C33.5,27 41.3,35.5 41.3,47.5 C41.3,59.5 33,67 22,67 C12.5,67 5.5,61 3,52.5"/></g></g><g fill="none" stroke="#6e6e6e" stroke-width="6.987" stroke-linejoin="miter" stroke-miterlimit="2.5"><g transform="translate(1772.70,1188.30) scale(0.9750,0.9143)"><path d="M13.5,0.8 V70 M0.5,3.9 H13.5"/></g><g transform="translate(1814.60,1188.30) scale(0.9750,0.9143)"><path d="M41,3 H14.5 L12.5,31.5 C15,28.5 18.5,27 22.5,27 C33.5,27 41.3,35.5 41.3,47.5 C41.3,59.5 33,67 22,67 C12.5,67 5.5,61 3,52.5"/></g></g><g fill="none" stroke="#2c2c2c" stroke-width="5.716" stroke-linejoin="miter" stroke-miterlimit="2.5"><g transform="translate(1772.70,1188.30) scale(0.9750,0.9143)"><path d="M13.5,0.8 V70 M0.5,3.9 H13.5"/></g><g transform="translate(1814.60,1188.30) scale(0.9750,0.9143)"><path d="M41,3 H14.5 L12.5,31.5 C15,28.5 18.5,27 22.5,27 C33.5,27 41.3,35.5 41.3,47.5 C41.3,59.5 33,67 22,67 C12.5,67 5.5,61 3,52.5"/></g></g>
<g fill="none" stroke="#ececec" stroke-width="10.051" stroke-linejoin="miter" stroke-miterlimit="2.5"><g transform="translate(1954.80,1191.30) scale(0.9700,0.9800)"><path d="M13.5,0.8 V70 M0.5,3.9 H13.5"/></g><g transform="translate(1997.50,1191.30) scale(0.9700,0.9800)"><path d="M3,16 C5,8 12,3 21,3 C30.5,3 37,9 37,18 C37,26.5 30.5,33 22,33 H17 M22,33 C33,33 40,40 40,50 C40,60 32,67 21.5,67 C12,67 5,62 3,54"/></g><g transform="translate(2052.50,1191.30) scale(0.9700,0.9800)"><path d="M9.5,57 L3,76.5"/></g><g transform="translate(2077.50,1191.30) scale(0.9700,0.9800)"><path d="M41,3 H14.5 L12.5,31.5 C15,28.5 18.5,27 22.5,27 C33.5,27 41.3,35.5 41.3,47.5 C41.3,59.5 33,67 22,67 C12.5,67 5.5,61 3,52.5"/></g></g><g fill="none" stroke="#b4b4b4" stroke-width="8.205" stroke-linejoin="miter" stroke-miterlimit="2.5"><g transform="translate(1954.80,1191.30) scale(0.9700,0.9800)"><path d="M13.5,0.8 V70 M0.5,3.9 H13.5"/></g><g transform="translate(1997.50,1191.30) scale(0.9700,0.9800)"><path d="M3,16 C5,8 12,3 21,3 C30.5,3 37,9 37,18 C37,26.5 30.5,33 22,33 H17 M22,33 C33,33 40,40 40,50 C40,60 32,67 21.5,67 C12,67 5,62 3,54"/></g><g transform="translate(2052.50,1191.30) scale(0.9700,0.9800)"><path d="M9.5,57 L3,76.5"/></g><g transform="translate(2077.50,1191.30) scale(0.9700,0.9800)"><path d="M41,3 H14.5 L12.5,31.5 C15,28.5 18.5,27 22.5,27 C33.5,27 41.3,35.5 41.3,47.5 C41.3,59.5 33,67 22,67 C12.5,67 5.5,61 3,52.5"/></g></g><g fill="none" stroke="#6e6e6e" stroke-width="6.769" stroke-linejoin="miter" stroke-miterlimit="2.5"><g transform="translate(1954.80,1191.30) scale(0.9700,0.9800)"><path d="M13.5,0.8 V70 M0.5,3.9 H13.5"/></g><g transform="translate(1997.50,1191.30) scale(0.9700,0.9800)"><path d="M3,16 C5,8 12,3 21,3 C30.5,3 37,9 37,18 C37,26.5 30.5,33 22,33 H17 M22,33 C33,33 40,40 40,50 C40,60 32,67 21.5,67 C12,67 5,62 3,54"/></g><g transform="translate(2052.50,1191.30) scale(0.9700,0.9800)"><path d="M9.5,57 L3,76.5"/></g><g transform="translate(2077.50,1191.30) scale(0.9700,0.9800)"><path d="M41,3 H14.5 L12.5,31.5 C15,28.5 18.5,27 22.5,27 C33.5,27 41.3,35.5 41.3,47.5 C41.3,59.5 33,67 22,67 C12.5,67 5.5,61 3,52.5"/></g></g><g fill="none" stroke="#2c2c2c" stroke-width="5.538" stroke-linejoin="miter" stroke-miterlimit="2.5"><g transform="translate(1954.80,1191.30) scale(0.9700,0.9800)"><path d="M13.5,0.8 V70 M0.5,3.9 H13.5"/></g><g transform="translate(1997.50,1191.30) scale(0.9700,0.9800)"><path d="M3,16 C5,8 12,3 21,3 C30.5,3 37,9 37,18 C37,26.5 30.5,33 22,33 H17 M22,33 C33,33 40,40 40,50 C40,60 32,67 21.5,67 C12,67 5,62 3,54"/></g><g transform="translate(2052.50,1191.30) scale(0.9700,0.9800)"><path d="M9.5,57 L3,76.5"/></g><g transform="translate(2077.50,1191.30) scale(0.9700,0.9800)"><path d="M41,3 H14.5 L12.5,31.5 C15,28.5 18.5,27 22.5,27 C33.5,27 41.3,35.5 41.3,47.5 C41.3,59.5 33,67 22,67 C12.5,67 5.5,61 3,52.5"/></g></g>
<g transform="translate(256.3,929.3) rotate(-90)"><g fill="none" stroke="#ececec" stroke-width="10.044" stroke-linejoin="miter" stroke-miterlimit="2.5"><g transform="translate(0.00,0.00) scale(0.9757,0.9757)"><path d="M3,19 C3,9.5 11,3 21.5,3 C32,3 40,9.5 40,19.5 C40,26 37,30.5 33,35.5 L6.5,67 H44"/></g><g transform="translate(52.10,0.00) scale(0.9757,0.9757)"><ellipse cx="22" cy="17.5" rx="15.5" ry="14.8"/><ellipse cx="22" cy="50.3" rx="19" ry="16.7"/></g></g><g fill="none" stroke="#b4b4b4" stroke-width="8.199" stroke-linejoin="miter" stroke-miterlimit="2.5"><g transform="translate(0.00,0.00) scale(0.9757,0.9757)"><path d="M3,19 C3,9.5 11,3 21.5,3 C32,3 40,9.5 40,19.5 C40,26 37,30.5 33,35.5 L6.5,67 H44"/></g><g transform="translate(52.10,0.00) scale(0.9757,0.9757)"><ellipse cx="22" cy="17.5" rx="15.5" ry="14.8"/><ellipse cx="22" cy="50.3" rx="19" ry="16.7"/></g></g><g fill="none" stroke="#6e6e6e" stroke-width="6.764" stroke-linejoin="miter" stroke-miterlimit="2.5"><g transform="translate(0.00,0.00) scale(0.9757,0.9757)"><path d="M3,19 C3,9.5 11,3 21.5,3 C32,3 40,9.5 40,19.5 C40,26 37,30.5 33,35.5 L6.5,67 H44"/></g><g transform="translate(52.10,0.00) scale(0.9757,0.9757)"><ellipse cx="22" cy="17.5" rx="15.5" ry="14.8"/><ellipse cx="22" cy="50.3" rx="19" ry="16.7"/></g></g><g fill="none" stroke="#2c2c2c" stroke-width="5.534" stroke-linejoin="miter" stroke-miterlimit="2.5"><g transform="translate(0.00,0.00) scale(0.9757,0.9757)"><path d="M3,19 C3,9.5 11,3 21.5,3 C32,3 40,9.5 40,19.5 C40,26 37,30.5 33,35.5 L6.5,67 H44"/></g><g transform="translate(52.10,0.00) scale(0.9757,0.9757)"><ellipse cx="22" cy="17.5" rx="15.5" ry="14.8"/><ellipse cx="22" cy="50.3" rx="19" ry="16.7"/></g></g></g>
<g transform="translate(406.6,971.0) rotate(-90)"><g fill="none" stroke="#ececec" stroke-width="10.148" stroke-linejoin="miter" stroke-miterlimit="2.5"><g transform="translate(0.00,0.00) scale(0.9657,0.9657)"><path d="M13.5,0.8 V70 M0.5,3.9 H13.5"/></g><g transform="translate(43.20,0.00) scale(0.9657,0.9657)"><ellipse cx="20.5" cy="20" rx="17.2" ry="17.2"/><path d="M10,68.5 L34.7,28.5"/></g><g transform="translate(96.80,0.00) scale(0.9657,0.9657)"><path d="M9.5,57 L3,76.5"/></g><g transform="translate(121.00,0.00) scale(0.9657,0.9657)"><path d="M41,3 H14.5 L12.5,31.5 C15,28.5 18.5,27 22.5,27 C33.5,27 41.3,35.5 41.3,47.5 C41.3,59.5 33,67 22,67 C12.5,67 5.5,61 3,52.5"/></g></g><g fill="none" stroke="#b4b4b4" stroke-width="8.284" stroke-linejoin="miter" stroke-miterlimit="2.5"><g transform="translate(0.00,0.00) scale(0.9657,0.9657)"><path d="M13.5,0.8 V70 M0.5,3.9 H13.5"/></g><g transform="translate(43.20,0.00) scale(0.9657,0.9657)"><ellipse cx="20.5" cy="20" rx="17.2" ry="17.2"/><path d="M10,68.5 L34.7,28.5"/></g><g transform="translate(96.80,0.00) scale(0.9657,0.9657)"><path d="M9.5,57 L3,76.5"/></g><g transform="translate(121.00,0.00) scale(0.9657,0.9657)"><path d="M41,3 H14.5 L12.5,31.5 C15,28.5 18.5,27 22.5,27 C33.5,27 41.3,35.5 41.3,47.5 C41.3,59.5 33,67 22,67 C12.5,67 5.5,61 3,52.5"/></g></g><g fill="none" stroke="#6e6e6e" stroke-width="6.834" stroke-linejoin="miter" stroke-miterlimit="2.5"><g transform="translate(0.00,0.00) scale(0.9657,0.9657)"><path d="M13.5,0.8 V70 M0.5,3.9 H13.5"/></g><g transform="translate(43.20,0.00) scale(0.9657,0.9657)"><ellipse cx="20.5" cy="20" rx="17.2" ry="17.2"/><path d="M10,68.5 L34.7,28.5"/></g><g transform="translate(96.80,0.00) scale(0.9657,0.9657)"><path d="M9.5,57 L3,76.5"/></g><g transform="translate(121.00,0.00) scale(0.9657,0.9657)"><path d="M41,3 H14.5 L12.5,31.5 C15,28.5 18.5,27 22.5,27 C33.5,27 41.3,35.5 41.3,47.5 C41.3,59.5 33,67 22,67 C12.5,67 5.5,61 3,52.5"/></g></g><g fill="none" stroke="#2c2c2c" stroke-width="5.592" stroke-linejoin="miter" stroke-miterlimit="2.5"><g transform="translate(0.00,0.00) scale(0.9657,0.9657)"><path d="M13.5,0.8 V70 M0.5,3.9 H13.5"/></g><g transform="translate(43.20,0.00) scale(0.9657,0.9657)"><ellipse cx="20.5" cy="20" rx="17.2" ry="17.2"/><path d="M10,68.5 L34.7,28.5"/></g><g transform="translate(96.80,0.00) scale(0.9657,0.9657)"><path d="M9.5,57 L3,76.5"/></g><g transform="translate(121.00,0.00) scale(0.9657,0.9657)"><path d="M41,3 H14.5 L12.5,31.5 C15,28.5 18.5,27 22.5,27 C33.5,27 41.3,35.5 41.3,47.5 C41.3,59.5 33,67 22,67 C12.5,67 5.5,61 3,52.5"/></g></g></g>
<g transform="translate(1514.6,1179.6) rotate(-90)"><g fill="none" stroke="#ececec" stroke-width="10.088" stroke-linejoin="miter" stroke-miterlimit="2.5"><g transform="translate(0.00,0.00) scale(0.9714,0.9714)"><ellipse cx="34" cy="34.5" rx="31" ry="29.7"/><path d="M1,67 L67,1.5"/></g><g transform="translate(80.60,0.00) scale(0.9714,0.9714)"><path d="M0,3 H40 L9,70"/></g><g transform="translate(131.80,0.00) scale(0.9714,0.9714)"><path d="M9.5,57 L3,76.5"/></g><g transform="translate(156.70,0.00) scale(0.9714,0.9714)"><path d="M41,3 H14.5 L12.5,31.5 C15,28.5 18.5,27 22.5,27 C33.5,27 41.3,35.5 41.3,47.5 C41.3,59.5 33,67 22,67 C12.5,67 5.5,61 3,52.5"/></g></g><g fill="none" stroke="#b4b4b4" stroke-width="8.235" stroke-linejoin="miter" stroke-miterlimit="2.5"><g transform="translate(0.00,0.00) scale(0.9714,0.9714)"><ellipse cx="34" cy="34.5" rx="31" ry="29.7"/><path d="M1,67 L67,1.5"/></g><g transform="translate(80.60,0.00) scale(0.9714,0.9714)"><path d="M0,3 H40 L9,70"/></g><g transform="translate(131.80,0.00) scale(0.9714,0.9714)"><path d="M9.5,57 L3,76.5"/></g><g transform="translate(156.70,0.00) scale(0.9714,0.9714)"><path d="M41,3 H14.5 L12.5,31.5 C15,28.5 18.5,27 22.5,27 C33.5,27 41.3,35.5 41.3,47.5 C41.3,59.5 33,67 22,67 C12.5,67 5.5,61 3,52.5"/></g></g><g fill="none" stroke="#6e6e6e" stroke-width="6.794" stroke-linejoin="miter" stroke-miterlimit="2.5"><g transform="translate(0.00,0.00) scale(0.9714,0.9714)"><ellipse cx="34" cy="34.5" rx="31" ry="29.7"/><path d="M1,67 L67,1.5"/></g><g transform="translate(80.60,0.00) scale(0.9714,0.9714)"><path d="M0,3 H40 L9,70"/></g><g transform="translate(131.80,0.00) scale(0.9714,0.9714)"><path d="M9.5,57 L3,76.5"/></g><g transform="translate(156.70,0.00) scale(0.9714,0.9714)"><path d="M41,3 H14.5 L12.5,31.5 C15,28.5 18.5,27 22.5,27 C33.5,27 41.3,35.5 41.3,47.5 C41.3,59.5 33,67 22,67 C12.5,67 5.5,61 3,52.5"/></g></g><g fill="none" stroke="#2c2c2c" stroke-width="5.559" stroke-linejoin="miter" stroke-miterlimit="2.5"><g transform="translate(0.00,0.00) scale(0.9714,0.9714)"><ellipse cx="34" cy="34.5" rx="31" ry="29.7"/><path d="M1,67 L67,1.5"/></g><g transform="translate(80.60,0.00) scale(0.9714,0.9714)"><path d="M0,3 H40 L9,70"/></g><g transform="translate(131.80,0.00) scale(0.9714,0.9714)"><path d="M9.5,57 L3,76.5"/></g><g transform="translate(156.70,0.00) scale(0.9714,0.9714)"><path d="M41,3 H14.5 L12.5,31.5 C15,28.5 18.5,27 22.5,27 C33.5,27 41.3,35.5 41.3,47.5 C41.3,59.5 33,67 22,67 C12.5,67 5.5,61 3,52.5"/></g></g></g>
</g>
</svg>
</body></html>
